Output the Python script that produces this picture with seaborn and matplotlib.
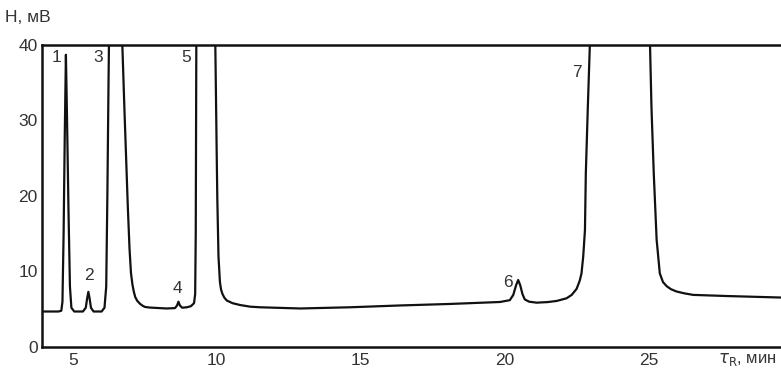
import matplotlib
matplotlib.use("Agg")
import matplotlib.pyplot as plt
import seaborn as sns
import pandas as pd

# Retention time (min) and detector signal (mV)
time_min = [3.93, 4.50, 4.60, 4.64, 4.68, 4.72, 4.76, 4.80, 4.85, 4.90, 4.95, 5.05,
            5.35, 5.45, 5.50, 5.54, 5.58, 5.63, 5.72, 6.00, 6.10, 6.16, 6.20, 6.24, 6.27,
            6.70, 6.72, 6.79, 6.91, 6.97, 7.02, 7.07, 7.12, 7.17, 7.24, 7.34, 7.43, 7.51,
            7.68, 8.26, 8.55, 8.62, 8.67, 8.72, 8.80, 8.96, 9.10, 9.21, 9.25, 9.27, 9.29, 9.30,
            9.93, 9.95, 10.00, 10.02, 10.06, 10.11, 10.15, 10.20, 10.27, 10.35, 10.55, 10.81,
            11.16, 11.50, 12.90, 14.63, 16.37, 18.10, 19.84, 20.18, 20.30, 20.40, 20.47, 20.54,
            20.62, 20.70, 20.85, 21.11, 21.50, 21.81, 22.15, 22.33, 22.50, 22.61, 22.67,
            22.73, 22.79, 22.82, 22.89, 22.96, 23.00,
            25.00, 25.05, 25.10, 25.18, 25.28, 25.39, 25.50, 25.63, 25.78, 25.97, 26.25,
            26.55, 27.71, 29.60]
signal_mv = [4.7, 4.7, 4.8, 6.0, 15.0, 28.0, 38.7, 30.0, 18.0, 8.0, 5.2, 4.7,
             4.7, 5.2, 6.5, 7.3, 6.5, 5.2, 4.7, 4.7, 5.2, 8.0, 20.0, 35.0, 45.0,
             45.0, 40.0, 31.8, 18.6, 13.0, 9.8, 8.3, 7.3, 6.6, 6.1, 5.7, 5.45, 5.3,
             5.22, 5.1, 5.15, 5.5, 6.0, 5.5, 5.2, 5.26, 5.4, 5.8, 7.0, 15.0, 40.0, 45.0,
             45.0, 40.0, 25.0, 19.5, 12.0, 8.6, 7.6, 7.0, 6.5, 6.15, 5.8, 5.56,
             5.34, 5.26, 5.1, 5.26, 5.5, 5.7, 5.96, 6.2, 6.9, 8.2, 8.87, 8.2,
             7.0, 6.3, 6.0, 5.87, 5.95, 6.1, 6.45, 6.9, 7.7, 8.8, 9.75,
             12.0, 15.5, 23.0, 31.8, 40.0, 45.0,
             45.0, 40.0, 31.8, 23.0, 14.2, 9.75, 8.6, 8.05, 7.65, 7.35, 7.1,
             6.9, 6.75, 6.55]

x_ticks = [5, 10, 15, 20, 25]
y_ticks = [0, 10, 20, 30, 40]
peak_labels = ["1", "2", "3", "4", "5", "6", "7"]

df = pd.DataFrame({"t": time_min, "H": signal_mv})

sns.set_style("white")
plt.rcParams['font.family'] = ['Liberation Sans', 'DejaVu Sans']

fig = plt.figure(figsize=(7.81, 3.70), dpi=100)
ax = fig.add_axes([0.0538, 0.0622, 0.9462, 0.8162])

sns.lineplot(data=df, x="t", y="H", ax=ax, color="#111111", linewidth=1.6,
             estimator=None, sort=False)

ax.set_xlim(3.93, 29.6)
ax.set_ylim(0, 40)
ax.set_xticks(x_ticks)
ax.set_yticks(y_ticks)
ax.set_xlabel("")
ax.set_ylabel("")

for s in ["left", "bottom", "top"]:
    ax.spines[s].set_visible(True)
    ax.spines[s].set_linewidth(1.8)
    ax.spines[s].set_color("#111111")
ax.spines["right"].set_visible(False)

ax.tick_params(axis="both", direction="in", length=6, width=1.4, color="#111111",
               labelsize=12.5, labelcolor="#333333")
ax.tick_params(axis="x", pad=4)
ax.tick_params(axis="y", pad=3)

# peak number labels (placement)
label_pos = [(4.45, 38.4), (5.57, 9.5), (5.88, 38.4), (8.62, 7.7),
             (8.93, 38.4), (20.11, 8.6), (22.51, 36.3)]
for lab, (px, py) in zip(peak_labels, label_pos):
    ax.text(px, py, lab, fontsize=12.5, color="#333333", ha="center", va="center")

fig.text(5 / 781, 1 - 18 / 370, "H, мВ", fontsize=12.5, color="#333333",
         ha="left", va="center")
fig.text(718 / 781, 1 - 360 / 370, r"$\tau_{\mathrm{R}}$, мин", fontsize=12,
         color="#333333", ha="left", va="center")

fig.savefig("out.png", dpi=100)
